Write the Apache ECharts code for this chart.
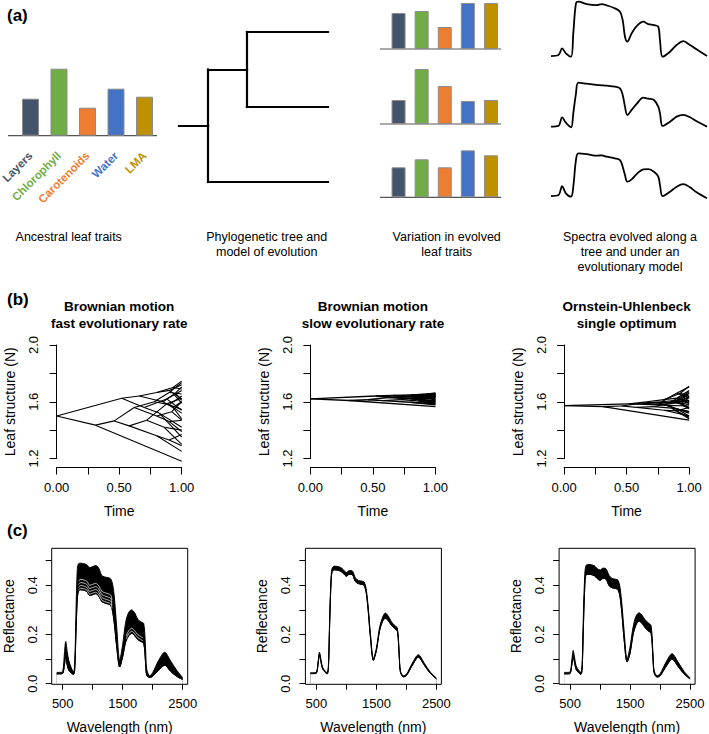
<!DOCTYPE html>
<html><head><meta charset="utf-8">
<script src="https://cdn.jsdelivr.net/npm/echarts@6.0.0/dist/echarts.min.js"></script>
<style>html,body{margin:0;padding:0;background:#fff}#c{width:709px;height:734px}</style>
</head><body><div id="c"></div>
<script>
// ---------- DATA ----------
const traitNames = ['Layers','Chlorophyll','Carotenoids','Water','LMA'];
const traitColors = ['#44546a','#70ad47','#ed7d31','#4472c4','#bf9000'];
const ancestral = [37, 67, 28, 47, 39];
const evolved1 = [36, 38, 22, 46, 46];
const evolved2 = [24, 55, 38, 23, 24];
const evolved3 = [30, 38, 30, 47, 42];

// schematic phylogeny (panel a)
const treeX = [0.195, 0.456, 1, 1, 1];
const treeY = [2.25, 1.5, 1, 2, 3];
const treeParentA = [-1, 0, 1, 1, 0];
const rootStemX = 0;

// schematic spectra (panel a)
const schemWl = [400,500,550,600,670,700,736,768,880,1015,1082,1149,1261,1329,1365,1396,1427,1486,1553,1643,1710,1786,1844,1867,1903,2002,2091,2181,2271,2360,2500];
const schem1 = [0.045,0.053,0.107,0.067,0.040,0.227,0.467,0.480,0.461,0.453,0.461,0.451,0.427,0.400,0.333,0.200,0.160,0.227,0.285,0.320,0.301,0.293,0.280,0.173,0.040,0.080,0.133,0.165,0.133,0.099,0.045];
const schem2 = [0.045,0.051,0.120,0.077,0.040,0.152,0.310,0.397,0.389,0.379,0.376,0.373,0.365,0.352,0.299,0.205,0.139,0.179,0.227,0.277,0.269,0.259,0.205,0.152,0.051,0.085,0.125,0.139,0.120,0.088,0.045];
const schem3 = [0.045,0.053,0.125,0.067,0.040,0.120,0.333,0.387,0.381,0.368,0.371,0.360,0.347,0.333,0.280,0.213,0.160,0.179,0.221,0.259,0.261,0.240,0.200,0.133,0.045,0.080,0.120,0.141,0.115,0.075,0.027];

// trait evolution along the simulated tree (panel b)
const treeParent = [-1,0,0,2,2,4,4,5,5,6,6,7,7,12,12,8,8,16,16,9,9,19,19,10,10,23,23,1,1,27,27,29,29,32,32,30,30,36,36,28,28,39,39,40,40,11,11,31,31,20,20,35,35,43,43,15,15];
const treeTime = [0,0.52,0.31,1,0.46,0.62,0.58,0.78,0.80,0.72,0.80,0.90,0.90,1,1,0.90,0.92,1,1,0.86,0.88,1,1,0.90,1,1,1,0.66,0.70,0.80,0.85,0.93,0.90,1,1,0.95,0.93,1,1,0.82,0.88,1,1,0.94,1,1,1,1,1,1,1,1,1,1,1,1,1];
const valFast = [1.500,1.625,1.435,1.180,1.465,1.560,1.430,1.600,1.500,1.470,1.360,1.665,1.580,1.640,1.520,1.460,1.530,1.600,1.470,1.420,1.585,1.300,1.400,1.330,1.250,1.290,1.370,1.640,1.560,1.665,1.600,1.700,1.680,1.720,1.620,1.660,1.560,1.600,1.480,1.520,1.620,1.420,1.350,1.650,1.540,1.735,1.655,1.745,1.690,1.625,1.545,1.705,1.610,1.680,1.590,1.470,1.390];
const valSlow = [1.620,1.641,1.609,1.566,1.614,1.630,1.608,1.637,1.620,1.615,1.596,1.648,1.634,1.644,1.623,1.612,1.625,1.637,1.615,1.606,1.634,1.586,1.603,1.591,1.578,1.584,1.598,1.644,1.630,1.648,1.637,1.654,1.651,1.657,1.640,1.648,1.630,1.637,1.617,1.623,1.640,1.606,1.595,1.645,1.627,1.659,1.646,1.662,1.652,1.641,1.627,1.656,1.641,1.650,1.635,1.614,1.601];
const valOU = [1.572,1.585,1.565,1.470,1.570,1.590,1.560,1.600,1.580,1.565,1.540,1.660,1.610,1.660,1.590,1.550,1.595,1.640,1.560,1.555,1.600,1.480,1.530,1.535,1.500,1.490,1.560,1.600,1.580,1.615,1.600,1.660,1.625,1.680,1.600,1.640,1.585,1.630,1.550,1.575,1.600,1.520,1.570,1.620,1.610,1.705,1.630,1.710,1.640,1.630,1.580,1.670,1.600,1.660,1.590,1.530,1.500];
const timeTicks = [0,0.25,0.5,0.75,1];
const timeLabels = [0,0.5,1];
const leafTicks = [1.2,1.4,1.6,1.8,2.0];
const leafLabels = [1.2,1.6,2.0];

// reflectance spectra envelopes (panel c)
const wl = [400,450,500,530,550,575,600,650,680,700,720,740,760,800,900,950,1000,1050,1100,1150,1200,1300,1350,1400,1450,1500,1550,1600,1650,1700,1750,1800,1850,1880,1900,1950,2000,2100,2200,2300,2400,2500];
const fastLo = [0.040,0.040,0.042,0.080,0.110,0.075,0.055,0.042,0.038,0.060,0.20,0.33,0.375,0.382,0.375,0.358,0.362,0.366,0.356,0.334,0.328,0.318,0.265,0.150,0.068,0.110,0.170,0.195,0.205,0.195,0.180,0.172,0.165,0.090,0.035,0.025,0.030,0.055,0.075,0.050,0.030,0.017];
const fastHi = [0.046,0.046,0.050,0.130,0.172,0.130,0.095,0.060,0.048,0.080,0.28,0.45,0.487,0.490,0.484,0.472,0.476,0.480,0.470,0.440,0.434,0.426,0.375,0.230,0.095,0.160,0.250,0.290,0.300,0.288,0.262,0.252,0.245,0.150,0.060,0.032,0.045,0.095,0.128,0.092,0.055,0.025];
const slowLo = [0.041,0.041,0.043,0.085,0.118,0.090,0.062,0.045,0.040,0.065,0.24,0.39,0.455,0.463,0.458,0.448,0.437,0.445,0.443,0.415,0.407,0.398,0.330,0.190,0.095,0.135,0.212,0.252,0.266,0.256,0.238,0.225,0.213,0.115,0.048,0.028,0.033,0.075,0.108,0.075,0.042,0.020];
const slowHi = [0.045,0.045,0.047,0.095,0.128,0.100,0.068,0.050,0.045,0.075,0.26,0.41,0.468,0.478,0.473,0.463,0.452,0.460,0.458,0.430,0.420,0.412,0.345,0.205,0.102,0.145,0.225,0.268,0.287,0.274,0.252,0.238,0.226,0.125,0.053,0.032,0.038,0.084,0.118,0.083,0.047,0.023];
const ouLo = [0.040,0.040,0.042,0.080,0.110,0.085,0.058,0.043,0.038,0.060,0.22,0.37,0.440,0.445,0.440,0.428,0.420,0.428,0.425,0.398,0.390,0.382,0.318,0.180,0.088,0.125,0.200,0.240,0.255,0.245,0.228,0.215,0.205,0.110,0.045,0.027,0.032,0.070,0.100,0.070,0.040,0.019];
const ouHi = [0.046,0.046,0.048,0.100,0.135,0.105,0.072,0.052,0.046,0.078,0.27,0.42,0.478,0.485,0.480,0.468,0.462,0.470,0.466,0.440,0.428,0.420,0.355,0.215,0.100,0.150,0.230,0.275,0.288,0.278,0.260,0.248,0.236,0.130,0.055,0.032,0.040,0.088,0.122,0.088,0.050,0.024];
// separated individual spectra visible in the fast-rate panel
const gapWlA = [760,800,900,950,1000,1050,1100,1150,1200,1300,1320];
const gapA1 = [0.381,0.388,0.381,0.364,0.368,0.372,0.362,0.340,0.334,0.324,0.306];
const gapA2 = [0.392,0.399,0.392,0.375,0.379,0.383,0.373,0.351,0.345,0.335,0.317];
const gapA3 = [0.404,0.411,0.404,0.387,0.391,0.395,0.385,0.363,0.357,0.347,0.329];
const gapA4 = [0.417,0.424,0.417,0.400,0.404,0.408,0.398,0.376,0.370,0.360,0.341];
const gapWlB = [1560,1600,1650,1700,1750,1800,1840];
const gapB1 = [0.183,0.203,0.213,0.203,0.188,0.180,0.174];
const gapB2 = [0.195,0.215,0.225,0.215,0.200,0.192,0.186];
const wlTicks = [500,1000,1500,2000,2500];
const wlLabels = [500,1500,2500];
const reflTicks = [0,0.1,0.2,0.3,0.4,0.5];
const reflLabels = [0,0.2,0.4];

// ---------- BUILD ----------
const FONT = '"Liberation Sans", Arial, Helvetica, sans-serif';
const grids=[], xAxis=[], yAxis=[], series=[], graphic=[];
function addGrid(g, xa, ya){
  const i = grids.length;
  grids.push(Object.assign({containLabel:false, outerBoundsMode:'none'}, g));
  xAxis.push(Object.assign({gridIndex:i}, xa));
  yAxis.push(Object.assign({gridIndex:i}, ya));
  return i;
}
function txt(x, y, text, size, weight, align){
  graphic.push({type:'text', x:x, y:y, silent:true, style:{text:text, fill:'#000',
    font:(weight||'normal')+' '+size+'px '+FONT, align:align||'center', verticalAlign:'middle'}});
}
function hline(x1,x2,y,color,w){
  graphic.push({type:'line', silent:true, shape:{x1:x1,y1:y,x2:x2,y2:y}, style:{stroke:color,lineWidth:w}});
}

// bar groups
function barGroup(left, width, bottom, maxV, vals, barW, labels){
  const gi = addGrid({left:left, top:bottom-maxV, width:width, height:maxV},
    {type:'category', data:traitNames, axisLine:{show:false}, axisTick:{show:false},
     axisLabel: labels ? {show:true, interval:0, rotate:45, margin:18, fontSize:11.5, fontWeight:'bold', fontFamily:FONT,
        color: v => traitColors[traitNames.indexOf(v)]} : {show:false}},
    {type:'value', min:0, max:maxV, show:false, splitLine:{show:false}});
  series.push({type:'bar', xAxisIndex:gi, yAxisIndex:gi, barWidth:barW, silent:true,
    data: vals.map((v,i)=>({value:v, itemStyle:{color:traitColors[i]}})),
    itemStyle:{borderColor:'#8c8c8c', borderWidth:1}});
}
barGroup(16.25, 142.5, 135.7, 70, ancestral, 17, true);
hline(8, 157, 135.7, '#555', 1.2);
barGroup(387, 115.5, 49, 48, evolved1, 14, false);
barGroup(387, 115.5, 124, 60, evolved2, 14, false);
barGroup(387, 115.5, 197.3, 60, evolved3, 14, false);
hline(380, 501, 49, '#555', 1.2);
hline(380, 501, 124, '#555', 1.2);
hline(380, 501, 197.3, '#555', 1.2);

// schematic tree
{
  const gi = addGrid({left:179, top:32, width:149, height:150},
    {type:'value', min:0, max:1, show:false}, {type:'value', min:1, max:3, inverse:true, show:false});
  const segs = [{coords:[[rootStemX, treeY[0]],[treeX[0], treeY[0]]]}];
  treeParentA.forEach((p,i)=>{
    if(p<0) return;
    segs.push({coords:[[treeX[p],treeY[i]],[treeX[i],treeY[i]]]});
    segs.push({coords:[[treeX[p],treeY[p]],[treeX[p],treeY[i]]]});
  });
  series.push({type:'lines', coordinateSystem:'cartesian2d', xAxisIndex:gi, yAxisIndex:gi, silent:true, clip:false,
    data:segs, lineStyle:{color:'#000', width:2.2, opacity:1, cap:'square'}});
}

// schematic spectra
[[schem1,0.45],[schem2,71.05],[schem3,140.45]].forEach(([s,top])=>{
  const gi = addGrid({left:551, top:top, width:156, height:61.25},
    {type:'value', min:400, max:2500, show:false}, {type:'value', min:0, max:0.49, show:false});
  series.push({type:'line', xAxisIndex:gi, yAxisIndex:gi, silent:true, symbol:'none', smooth:0.35, clip:false,
    data: schemWl.map((w,i)=>[w, s[i]]), lineStyle:{color:'#000', width:1.8}});
});

// panel b
const axisTxt = {fontSize:13, color:'#000', fontFamily:FONT};
const nameTxt = {fontSize:14, color:'#000', fontFamily:FONT};
const blk = {show:true, lineStyle:{color:'#000', width:1}};
[[56.7,valFast,1.1],[310.4,valSlow,1.4],[564.1,valOU,1.2]].forEach(([L,vals,lw])=>{
  const gi = addGrid({left:L, top:345, width:125, height:113.5},
    {type:'value', min:0, max:1, offset:9, axisLine:blk, splitLine:{show:false},
     axisTick:{show:true, customValues:timeTicks, length:7, lineStyle:{color:'#000'}},
     axisLabel:Object.assign({customValues:timeLabels, formatter:v=>Number(v).toFixed(2), margin:13}, axisTxt),
     name:'Time', nameLocation:'middle', nameGap:36, nameTextStyle:nameTxt},
    {type:'value', min:1.2, max:2.0, offset:4.4, axisLine:blk, splitLine:{show:false},
     axisTick:{show:true, customValues:leafTicks, length:7, lineStyle:{color:'#000'}},
     axisLabel:Object.assign({customValues:leafLabels, formatter:v=>Number(v).toFixed(1), rotate:90, margin:12}, axisTxt),
     name:'Leaf structure (N)', nameLocation:'middle', nameRotate:90, nameGap:35, nameTextStyle:nameTxt});
  const segs = [];
  treeParent.forEach((p,i)=>{ if(p<0) return; segs.push({coords:[[treeTime[p],vals[p]],[treeTime[i],vals[i]]]}); });
  series.push({type:'lines', coordinateSystem:'cartesian2d', xAxisIndex:gi, yAxisIndex:gi, silent:true, clip:false,
    data:segs, lineStyle:{color:'#000', width:lw, opacity:1}});
});

// panel c
function lineS(gi, xs, ys, color, w, area){
  const s = {type:'line', xAxisIndex:gi, yAxisIndex:gi, silent:true, symbol:'none', smooth:0.3,
    data: xs.map((x,i)=>[x, ys[i]]), lineStyle:{color:color, width:w}};
  if(area) s.areaStyle = {color:area, opacity:1};
  series.push(s);
}
[[51.7,fastLo,fastHi,true],[305.4,slowLo,slowHi,false],[559.1,ouLo,ouHi,false]].forEach(([L,lo,hi,gaps])=>{
  const gi = addGrid({left:L, top:548.3, width:136, height:136, show:true, borderColor:'#000', borderWidth:1},
    {type:'value', min:316, max:2584, axisLine:{show:false}, splitLine:{show:false},
     axisTick:{show:true, customValues:wlTicks, length:6, lineStyle:{color:'#000'}},
     axisLabel:Object.assign({customValues:wlLabels, formatter:v=>String(v), margin:13}, axisTxt),
     name:'Wavelength (nm)', nameLocation:'middle', nameGap:36, nameTextStyle:nameTxt},
    {type:'value', min:-0.0024, max:0.5504, axisLine:{show:false}, splitLine:{show:false},
     axisTick:{show:true, customValues:reflTicks, length:6, lineStyle:{color:'#000'}},
     axisLabel:Object.assign({customValues:reflLabels, formatter:v=>Number(v).toFixed(1), rotate:90, margin:13}, axisTxt),
     name:'Reflectance', nameLocation:'middle', nameRotate:90, nameGap:36, nameTextStyle:nameTxt});
  lineS(gi, wl, hi, '#000', 1, '#000');
  lineS(gi, wl, lo, '#000', 1, '#fff');
  lineS(gi, wl, lo, '#000', 1);
  if(gaps){
    [gapA1,gapA2,gapA3,gapA4].forEach(g=>lineS(gi, gapWlA, g, '#fff', 0.7));
    [gapB1,gapB2].forEach(g=>lineS(gi, gapWlB, g, '#fff', 0.7));
  }
});

// free text
txt(7, 15, '(a)', 17, 'bold', 'left');
txt(7, 299, '(b)', 17, 'bold', 'left');
txt(7, 530, '(c)', 17, 'bold', 'left');
txt(68.7, 237, 'Ancestral leaf traits', 12.5);
txt(266.7, 237, 'Phylogenetic tree and', 12.5);
txt(266.7, 252, 'model of evolution', 12.5);
txt(446.7, 237, 'Variation in evolved', 12.5);
txt(446.7, 252, 'leaf traits', 12.5);
txt(630, 237, 'Spectra evolved along a', 12.5);
txt(630, 252, 'tree and under an', 12.5);
txt(630, 267, 'evolutionary model', 12.5);
[[119.2,'Brownian motion','fast evolutionary rate'],[372.9,'Brownian motion','slow evolutionary rate'],[626.6,'Ornstein-Uhlenbeck','single optimum']].forEach(([cx,a,b])=>{
  txt(cx, 306, a, 13.5, 'bold'); txt(cx, 323, b, 13.5, 'bold');
});

const chart = echarts.init(document.getElementById('c'), null, {renderer:'svg'});
chart.setOption({animation:false, grid:grids, xAxis:xAxis, yAxis:yAxis, series:series, graphic:graphic});
</script></body></html>
